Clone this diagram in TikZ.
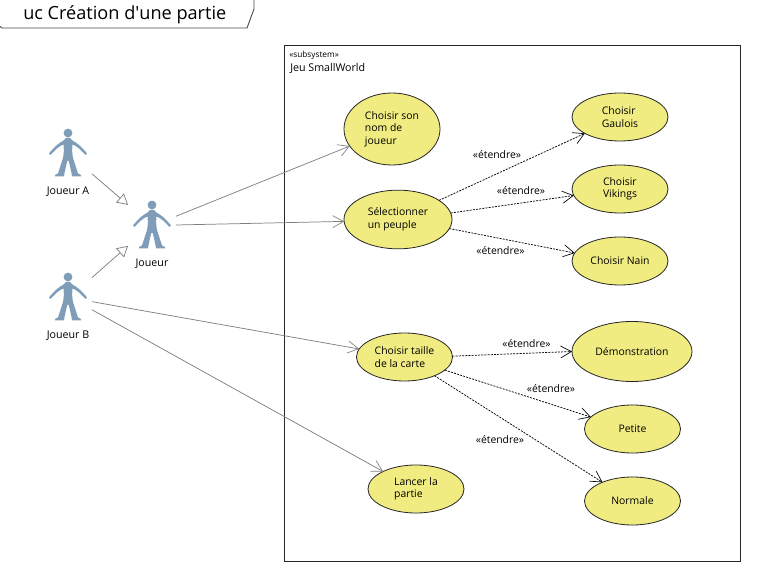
\documentclass[tikz,border=0pt]{standalone}
\usepackage{fontspec}
\setmainfont{Open Sans}
\usetikzlibrary{arrows.meta,shapes.geometric}
\definecolor{ucfill}{HTML}{F0EC82}
\definecolor{actorblue}{HTML}{7F9DB9}
\definecolor{assocgray}{HTML}{808080}
\tikzset{
  x=0.75pt,y=-0.75pt,
  uc/.style={draw=black!85,fill=ucfill,ellipse,inner sep=0pt,outer sep=0pt,line width=0.6pt,
     align=left,font=\fontsize{7.8}{9.4}\selectfont,execute at begin node={\vspace*{1.5pt}}},
  ucs/.style={uc,minimum width=72pt,minimum height=36pt},
  actorbox/.style={rectangle,inner sep=0pt,outer sep=0pt,minimum width=36pt,minimum height=36pt},
  actorlabel/.style={inner sep=0pt,yshift=-1.2pt,font=\fontsize{8}{9.4}\selectfont},
  extlabel/.style={inner sep=0pt,yshift=-0.6pt,font=\fontsize{7.8}{9.4}\selectfont},
  assoc/.style={draw=assocgray,line width=0.55pt,-{Straight Barb[length=8pt,width=9pt,line width=0.5pt]}},
  gener/.style={draw=assocgray,line width=0.55pt,-{Triangle[open,length=8pt,width=9pt,fill=white]}},
  extend/.style={draw=black,line width=0.55pt,dash pattern=on 1.5pt off 0.9pt,
     -{Straight Barb[length=8pt,width=9pt,line width=0.5pt]}},
  actorfig/.pic={
    \fill[actorblue] (0,-20) circle[radius=4.4];
    \fill[actorblue] (-2.2,-15) -- (2.2,-15) .. controls (3,-12.5) and (8,-11) .. (11,-8)
      .. controls (14,-5.5) and (17,-2) .. (19,0.5) -- (17.5,2)
      .. controls (14,-2) and (9,-7) .. (4.5,-8.5)
      .. controls (4,-3) and (4,0) .. (5,5) -- (10,20.5) -- (13,22) -- (13,23.5) -- (4,23.5)
      -- (3.5,20) -- (0.8,8) -- (-0.8,8) -- (-3.5,20) -- (-4,23.5) -- (-13,23.5) -- (-13,22)
      -- (-10,20.5) -- (-5,5) .. controls (-4,0) and (-4,-3) .. (-4.5,-8.5)
      .. controls (-9,-7) and (-14,-2) .. (-17.5,2) -- (-19,0.5)
      .. controls (-17,-2) and (-14,-5.5) .. (-11,-8)
      .. controls (-8,-11) and (-3,-12.5) .. (-2.2,-15) -- cycle;
  }
}
\begin{document}
\begin{tikzpicture}
\useasboundingbox[fill=white] (0,0) rectangle (758,574);
% title tab
\draw[draw=black!70,fill=white,line width=0.7pt] (0,26.5) .. controls (0.5,27.5) and (1,28) .. (2,28)
  -- (247,28) -- (254,9) -- (254,-1);
\node[anchor=base west,inner sep=0pt,font=\fontsize{13.6}{16}\selectfont] (title) at (23,20) {uc Création d\textquotesingle une partie};
% system
\draw[draw=black!85,line width=0.7pt] (284.5,45.5) rectangle (740.5,561);
\node[anchor=base west,inner sep=0pt,font=\fontsize{6.2}{7}\selectfont] (stereo) at (289,58) {«subsystem»};
\node[anchor=base west,inner sep=0pt,font=\fontsize{8}{9.4}\selectfont] (sysname) at (290,72) {Jeu SmallWorld};
% actors
\node[actorbox] (ja) at (68,153) {};
\node[actorbox] (j) at (152,225) {};
\node[actorbox] (jb) at (68,297) {};
\pic at (ja) {actorfig};
\pic at (j) {actorfig};
\pic at (jb) {actorfig};
\node[actorlabel] (jal) at (68,190) {Joueur A};
\node[actorlabel] (jl) at (152,262) {Joueur};
\node[actorlabel] (jbl) at (68,334) {Joueur B};
% use cases
\node[uc,minimum width=72pt,minimum height=54pt] (nom) at (392,129) {Choisir son\\nom de\\joueur};
\node[uc,minimum width=81pt,minimum height=44pt] (peuple) at (398,219.5) {Sélectionner\\un peuple};
\node[ucs] (gaulois) at (620,117) {Choisir\\Gaulois};
\node[ucs] (vikings) at (620,189) {Choisir\\Vikings};
\node[ucs] (nain) at (620,261) {Choisir Nain};
\node[ucs] (taille) at (404.5,357) {Choisir taille\\de la carte};
\node[uc,minimum width=90pt,minimum height=45pt] (demo) at (632,351.5) {Démonstration};
\node[ucs] (petite) at (632.5,429) {Petite};
\node[ucs] (normale) at (632.5,501) {Normale};
\node[ucs] (lancer) at (416,489) {Lancer la\\partie};
% connectors
\draw[gener] (ja.-41.2) -- (j.140.6);
\draw[gener] (jb.39.8) -- (j.221);
\draw[assoc] (j.20.6) -- (nom.202.5);
\draw[assoc] (j.0) -- (peuple.182);
\draw[assoc] (jb.-11.8) -- (taille.170);
\draw[assoc] (jb.-28.4) -- (lancer.152);
\draw[extend] (peuple.25) -- (gaulois.205);
\draw[extend] (peuple.7.6) -- (vikings.188.5);
\draw[extend] (peuple.-10.7) -- (nain.170);
\draw[extend] (taille.1) -- (demo.180);
\draw[extend] (taille.-18.3) -- (petite.164);
\draw[extend] (taille.-32.9) -- (normale.148.6);
% extend labels
\node[extlabel] (e1) at (497,154) {«étendre»};
\node[extlabel] (e2) at (521,190) {«étendre»};
\node[extlabel] (e3) at (500.5,250) {«étendre»};
\node[extlabel] (e4) at (526.5,343) {«étendre»};
\node[extlabel] (e5) at (551,388) {«étendre»};
\node[extlabel] (e6) at (500,439) {«étendre»};
\end{tikzpicture}
\end{document}
